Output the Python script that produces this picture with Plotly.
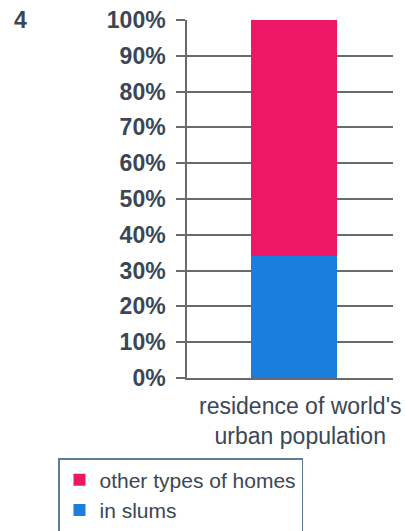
import plotly.graph_objects as go

categories = ["residence of world's<br>urban population"]
series_names = ["in slums", "other types of homes"]
in_slums = [34]
other_homes = [66]
colors = ["#1a7fdc", "#ee1766"]
tick_vals = [0, 10, 20, 30, 40, 50, 60, 70, 80, 90, 100]
tick_text = [f"{v}%" for v in tick_vals]

fig = go.Figure()
fig.add_trace(go.Bar(x=categories, y=in_slums, name=series_names[0],
                     marker=dict(color=colors[0], line=dict(width=0)), width=0.42, offset=-0.19))
fig.add_trace(go.Bar(x=categories, y=other_homes, name=series_names[1],
                     marker=dict(color=colors[1], line=dict(width=0)), width=0.42, offset=-0.19))

txt = "#3b4656"
fam = "Liberation Sans, Arial, sans-serif"
fig.update_layout(
    barmode="stack",
    width=405, height=531,
    margin=dict(l=187, r=12, t=20, b=153, autoexpand=False),
    paper_bgcolor="white", plot_bgcolor="white",
    font=dict(family=fam, color=txt),
    showlegend=True,
    legend=dict(
        traceorder="reversed",
        xref="container", yref="container",
        x=58/405, y=1-458/531, xanchor="left", yanchor="top",
        bordercolor="#5f7d99", borderwidth=1.5,
        bgcolor="white",
        font=dict(size=21, color=txt),
        tracegroupgap=0,
    ),
    annotations=[
        dict(text="4", xref="paper", yref="paper",
             x=-(187-12)/206, y=1.0, xanchor="left", yanchor="middle",
             showarrow=False, font=dict(size=23, color=txt, weight="bold")),
        dict(text=categories[0], xref="paper", yref="paper",
             x=(300-187)/206, y=-0.035, xanchor="center", yanchor="top",
             showarrow=False, font=dict(size=23, color=txt, family=fam)),
    ],
)
fig.update_yaxes(
    range=[0, 100], tickvals=tick_vals, ticktext=tick_text,
    showgrid=True, gridcolor="#6a6a6a", gridwidth=1.5,
    showline=True, linecolor="#6a6a6a", linewidth=1.5,
    ticks="outside", ticklen=9, tickcolor="#6a6a6a", tickwidth=1.5,
    ticklabelstandoff=6,
    tickfont=dict(size=23, color=txt, family=fam, weight="bold"),
    zeroline=False, automargin=False,
)
fig.update_xaxes(
    range=[-0.5, 0.5],
    showline=True, linecolor="#6a6a6a", linewidth=1.5,
    ticks="", showticklabels=False, automargin=False,
)
fig.write_html("out.html")
